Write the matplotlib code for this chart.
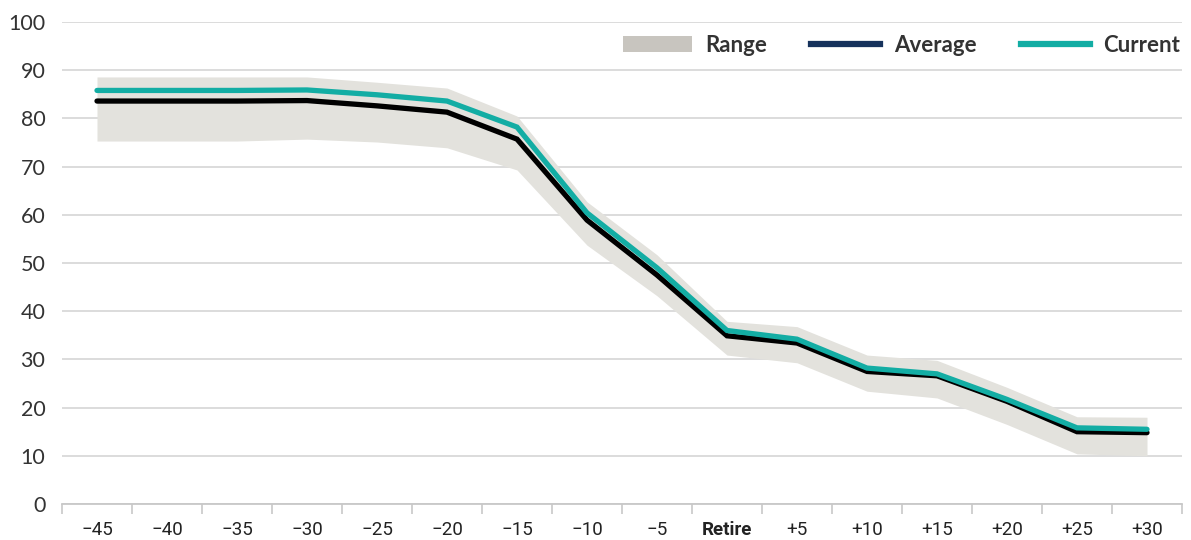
import matplotlib
matplotlib.use("Agg")
import matplotlib.pyplot as plt
from matplotlib.patches import Patch
from matplotlib.lines import Line2D
from matplotlib.ticker import FixedLocator

# years relative to retirement
labels = ["\u221245", "\u221240", "\u221235", "\u221230", "\u221225", "\u221220",
          "\u221215", "\u221210", "\u22125", "Retire", "+5", "+10", "+15",
          "+20", "+25", "+30"]

average = [83.6, 83.6, 83.6, 83.7, 82.6, 81.3, 75.7, 58.9, 47.5, 34.9,
           33.4, 27.5, 26.6, 21.3, 15.0, 14.8]
current = [85.8, 85.8, 85.8, 85.9, 84.9, 83.6, 78.2, 60.4, 49.0, 36.0,
           34.2, 28.2, 27.0, 21.7, 15.8, 15.5]
range_hi = [88.6, 88.6, 88.6, 88.6, 87.5, 86.3, 80.5, 62.7, 51.7, 37.9,
            36.8, 30.9, 29.8, 24.2, 18.1, 18.0]
range_lo = [75.3, 75.3, 75.3, 75.7, 75.1, 73.9, 69.3, 53.7, 43.2, 30.9,
            29.3, 23.4, 22.0, 16.5, 10.4, 10.0]

BAND = "#e3e2dd"
TEAL = "#13ada4"
NAVY = "#16325c"
GRID = "#d9d9d9"

plt.rcParams["font.family"] = ["Lato", "DejaVu Sans"]

fig = plt.figure(figsize=(11.91, 5.4), dpi=100)
ax = fig.add_axes([62 / 1191, 36 / 540, 1120 / 1191, 482 / 540])

x = list(range(len(labels)))
ax.fill_between(x, range_lo, range_hi, color=BAND, linewidth=0, zorder=2)
ax.plot(x, average, color="black", lw=3.8, solid_capstyle="round",
        solid_joinstyle="miter", zorder=3)
ax.plot(x, current, color=TEAL, lw=3.8, solid_capstyle="round",
        solid_joinstyle="miter", zorder=4)

ax.set_xlim(-0.5, len(labels) - 0.5)
ax.set_ylim(0, 100)
ax.set_yticks(range(0, 101, 10))
ax.yaxis.grid(True, color=GRID, lw=1.3, zorder=0)
ax.set_axisbelow(True)

for side in ("top", "right", "left"):
    ax.spines[side].set_visible(False)
ax.spines["bottom"].set_color("#c8c8c8")
ax.spines["bottom"].set_linewidth(1.3)

ax.tick_params(axis="y", length=0, pad=12, labelsize=15.5, labelcolor="#333333")
ax.set_xticks(x)
ax.set_xticklabels(labels)
ax.tick_params(axis="x", which="major", length=0, pad=12, labelsize=13.5,
               labelcolor="#222222")
for t in ax.get_xticklabels():
    t.set_family(["Roboto", "DejaVu Sans"])
    if t.get_text() == "Retire":
        t.set_fontweight("bold")
ax.xaxis.set_minor_locator(FixedLocator([i - 0.5 for i in range(len(labels) + 1)]))
ax.tick_params(axis="x", which="minor", length=7, width=1.2, color="#c8c8c8")

handles = [
    Patch(facecolor="#c8c5bf", edgecolor="none", label="Range"),
    Line2D([], [], color=NAVY, lw=4.5, label="Average"),
    Line2D([], [], color=TEAL, lw=4.5, label="Current"),
]
leg = ax.legend(handles=handles, ncol=3, loc="center right",
                bbox_to_anchor=(1.006, 0.952), frameon=False,
                handlelength=3.1, handleheight=0.75, handletextpad=0.6,
                columnspacing=2.0, borderaxespad=0,
                prop={"family": "Lato", "weight": "bold", "size": 16})
for t in leg.get_texts():
    t.set_color("#333333")

fig.savefig("out.png", dpi=100)
